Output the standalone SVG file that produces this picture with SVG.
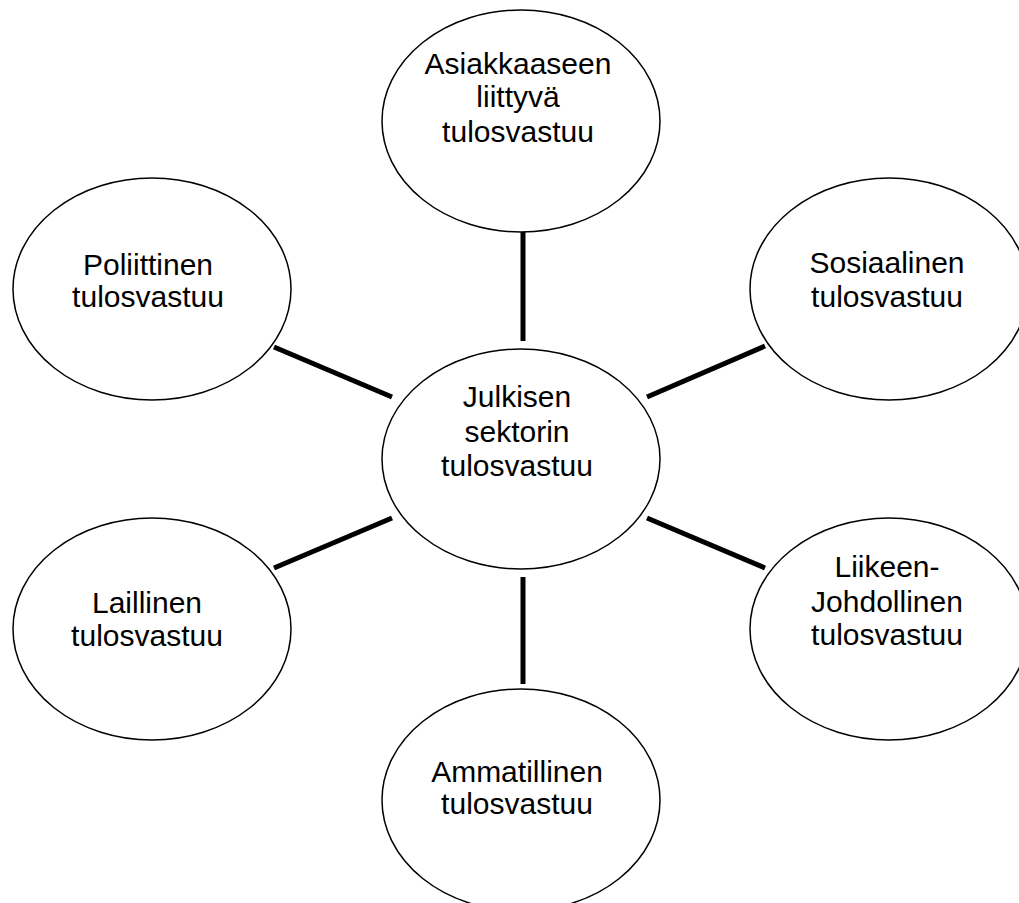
<svg xmlns="http://www.w3.org/2000/svg" width="1019" height="903" viewBox="0 0 1019 903">
<style>
.n{fill:#fff;stroke:#000;stroke-width:1.5}
.t{font-family:"Liberation Sans",Arial,sans-serif;font-size:30px;fill:#000;text-anchor:middle}
.c{stroke:#000;stroke-width:5;fill:none}
</style>
<rect width="1019" height="903" fill="#fff"/>
<g id="connectors">
<line class="c" x1="523" y1="232" x2="523" y2="341"/>
<line class="c" x1="523" y1="577" x2="523" y2="684"/>
<line class="c" x1="274" y1="347" x2="392" y2="397"/>
<line class="c" x1="647" y1="397" x2="765" y2="346"/>
<line class="c" x1="392" y1="518" x2="274" y2="568"/>
<line class="c" x1="647" y1="518" x2="765" y2="568"/>
</g>
<g id="top">
<ellipse class="n" cx="521" cy="121" rx="139" ry="111"/>
<text class="t" x="518" y="74">Asiakkaaseen</text>
<text class="t" x="518" y="107">liittyvä</text>
<text class="t" x="518" y="142">tulosvastuu</text>
</g>
<g id="poliittinen">
<ellipse class="n" cx="152" cy="289" rx="139" ry="111"/>
<text class="t" x="148" y="275">Poliittinen</text>
<text class="t" x="148" y="307">tulosvastuu</text>
</g>
<g id="sosiaalinen">
<ellipse class="n" cx="889" cy="289" rx="139" ry="111"/>
<text class="t" x="887" y="273">Sosiaalinen</text>
<text class="t" x="887" y="307">tulosvastuu</text>
</g>
<g id="center">
<ellipse class="n" cx="521" cy="459" rx="139" ry="110"/>
<text class="t" x="517" y="407">Julkisen</text>
<text class="t" x="517" y="442">sektorin</text>
<text class="t" x="517" y="476">tulosvastuu</text>
</g>
<g id="laillinen">
<ellipse class="n" cx="152" cy="629" rx="139" ry="111"/>
<text class="t" x="147" y="613">Laillinen</text>
<text class="t" x="147" y="646">tulosvastuu</text>
</g>
<g id="liikejohdollinen">
<ellipse class="n" cx="889" cy="629" rx="139" ry="111"/>
<text class="t" x="887" y="577">Liikeen-</text>
<text class="t" x="887" y="612">Johdollinen</text>
<text class="t" x="887" y="645">tulosvastuu</text>
</g>
<g id="ammatillinen">
<ellipse class="n" cx="521" cy="800" rx="139" ry="111"/>
<text class="t" x="517" y="782">Ammatillinen</text>
<text class="t" x="517" y="814">tulosvastuu</text>
</g>
</svg>
